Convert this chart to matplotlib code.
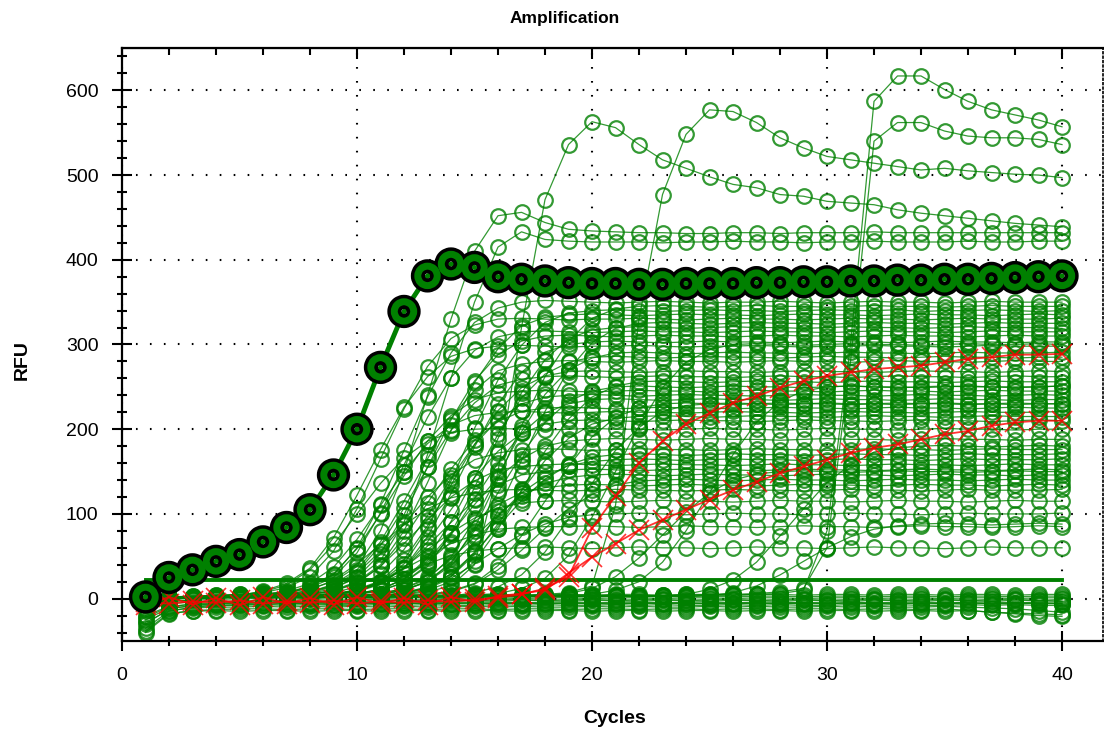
# Amplification plot (qPCR style) - RFU vs cycle for all wells
import matplotlib
matplotlib.use("Agg")
from matplotlib import pyplot as plt
from matplotlib import patheffects as pe
from matplotlib.ticker import MultipleLocator

plt.rcParams['font.family'] = ['Liberation Sans', 'DejaVu Sans']

cycles = list(range(1, 41))
threshold = 22

# highlighted well
hl = [2, 25, 34, 44, 52, 67, 84, 105, 146, 200,
      273, 339, 381, 395, 391, 380, 377, 375, 373, 372,
      372, 371, 371, 372, 372, 372, 373, 373, 374, 374,
      375, 375, 376, 376, 377, 377, 378, 379, 380, 381]

# red wells
r1 = [-4, -6, -3, -5, -2, -6, -3, -5, -2, -6,
      -3, -5, -2, -4, -1, 1, 5, 12, 26, 83,
      121, 160, 186, 206, 219, 231, 239, 249, 257, 263,
      267, 271, 273, 275, 279, 283, 285, 288, 288, 289]
r2 = [-8, 2, -7, 1, -8, 2, -6, 1, -7, 2,
      -6, 1, -7, 2, -4, 3, 6, 10, 30, 49,
      65, 81, 93, 105, 117, 128, 138, 148, 156, 164,
      172, 178, 182, 188, 194, 198, 204, 208, 210, 210]

# green wells - early risers
s01 = [2, 3, 1, 4, 5, 6, 8, 12, 20, 38,
       80, 150, 240, 330, 410, 452, 456, 444, 436, 434,
       433, 432, 432, 431, 431, 432, 432, 431, 432, 432,
       432, 433, 432, 432, 432, 432, 432, 432, 432, 432]
s02 = [1, 0, 2, 3, 2, 4, 6, 9, 14, 24,
       45, 90, 170, 260, 350, 415, 433, 424, 422, 421,
       421, 421, 420, 421, 421, 422, 421, 421, 420, 421,
       421, 422, 421, 421, 421, 422, 421, 421, 422, 422]
s03 = [1, 2, 3, 3, 4, 5, 7, 14, 28, 60,
       112, 175, 238, 290, 326, 343, 350, 352, 351, 350,
       349, 350, 351, 350, 349, 350, 350, 351, 350, 349,
       350, 351, 350, 350, 349, 350, 351, 350, 350, 350]
s04 = [0, 1, 2, 1, 3, 2, 3, 4, 5, 10,
       20, 41, 82, 139, 201, 258, 299, 326, 337, 340,
       341, 340, 339, 340, 341, 340, 340, 339, 340, 341,
       340, 340, 341, 339, 340, 340, 341, 340, 339, 340]
s05 = [2, 1, 3, 4, 5, 7, 13, 26, 56, 106,
       165, 224, 274, 307, 323, 330, 331, 330, 329, 330,
       330, 331, 330, 329, 330, 331, 330, 330, 329, 330,
       331, 330, 330, 329, 330, 331, 330, 330, 330, 331]
s06 = [1, 0, 2, 1, 2, 3, 2, 3, 4, 5,
       10, 19, 38, 77, 131, 189, 243, 282, 307, 317,
       320, 321, 320, 319, 320, 321, 320, 320, 319, 320,
       321, 320, 320, 319, 320, 321, 320, 320, 320, 319]
s07 = [1, 2, 2, 3, 3, 4, 5, 6, 12, 25,
       53, 99, 155, 211, 257, 288, 304, 310, 311, 310,
       309, 310, 311, 310, 310, 309, 310, 311, 310, 310,
       309, 310, 311, 310, 310, 309, 310, 311, 310, 310]
s08 = [1, 2, 2, 3, 4, 9, 18, 36, 72, 122,
       176, 226, 262, 286, 295, 298, 299, 298, 297, 298,
       298, 299, 298, 297, 298, 298, 299, 298, 297, 298,
       298, 299, 298, 298, 297, 298, 299, 298, 298, 298]
s09 = [0, 1, 1, 2, 1, 2, 3, 2, 3, 4,
       6, 12, 23, 49, 93, 145, 197, 241, 270, 284,
       290, 291, 290, 289, 290, 291, 290, 290, 289, 290,
       291, 290, 290, 289, 290, 291, 290, 290, 290, 291]
s10 = [2, 1, 2, 3, 3, 4, 4, 8, 17, 34,
       67, 115, 165, 213, 246, 269, 277, 280, 281, 280,
       279, 280, 281, 280, 280, 279, 280, 281, 280, 280,
       279, 280, 281, 280, 280, 279, 280, 281, 280, 280]
s11 = [1, 1, 2, 2, 3, 2, 3, 4, 5, 11,
       21, 46, 86, 134, 182, 222, 249, 263, 268, 269,
       268, 267, 268, 269, 268, 268, 267, 268, 269, 268,
       268, 267, 268, 269, 268, 268, 267, 268, 269, 268]
s12 = [0, 1, 0, 1, 2, 1, 2, 2, 3, 3,
       4, 5, 10, 20, 44, 82, 128, 174, 212, 238,
       251, 256, 257, 256, 255, 256, 257, 256, 256, 255,
       256, 257, 256, 256, 255, 256, 257, 256, 256, 256]
s13 = [1, 2, 2, 3, 3, 4, 7, 15, 29, 59,
       100, 145, 186, 216, 235, 243, 245, 246, 245, 244,
       245, 246, 245, 245, 244, 245, 246, 245, 245, 244,
       245, 246, 245, 245, 244, 245, 246, 245, 245, 245]
s14 = [0, 1, 1, 2, 2, 3, 2, 3, 4, 5,
       9, 19, 40, 75, 118, 160, 195, 219, 230, 235,
       236, 235, 234, 235, 236, 235, 235, 234, 235, 236,
       235, 235, 234, 235, 236, 235, 235, 234, 235, 235]
s15 = [1, 1, 2, 3, 2, 3, 4, 5, 9, 18,
       38, 72, 113, 153, 187, 209, 221, 225, 226, 225,
       224, 225, 226, 225, 225, 224, 225, 226, 225, 225,
       224, 225, 226, 225, 225, 224, 225, 226, 225, 225]
s16 = [1, 0, 1, 2, 1, 2, 2, 3, 3, 3,
       3, 6, 13, 26, 52, 88, 127, 163, 189, 206,
       213, 215, 216, 215, 214, 215, 216, 215, 215, 214,
       215, 216, 215, 215, 214, 215, 216, 215, 215, 215]
s17 = [1, 2, 2, 3, 4, 8, 16, 34, 64, 100,
       136, 166, 186, 196, 200, 201, 200, 199, 200, 201,
       200, 200, 199, 200, 201, 200, 200, 199, 200, 201,
       200, 200, 199, 200, 201, 200, 200, 199, 200, 200]
s18 = [0, 1, 1, 2, 2, 2, 3, 3, 3, 6,
       11, 23, 45, 77, 111, 143, 165, 180, 186, 188,
       189, 188, 187, 188, 189, 188, 188, 187, 188, 189,
       188, 188, 187, 188, 189, 188, 188, 187, 188, 188]
s19 = [1, 1, 2, 2, 3, 3, 4, 7, 14, 30,
       56, 88, 120, 146, 164, 172, 176, 177, 176, 175,
       176, 177, 176, 176, 175, 176, 177, 176, 176, 175,
       176, 177, 176, 176, 175, 176, 177, 176, 176, 176]
s20 = [0, 1, 0, 1, 2, 1, 2, 2, 2, 2,
       5, 10, 20, 39, 67, 97, 125, 144, 157, 162,
       164, 165, 164, 163, 164, 165, 164, 164, 163, 164,
       165, 164, 164, 163, 164, 165, 164, 164, 164, 165]
s21 = [1, 1, 2, 2, 2, 3, 3, 2, 5, 9,
       18, 36, 62, 90, 116, 134, 146, 150, 152, 153,
       152, 151, 152, 153, 152, 152, 151, 152, 153, 152,
       152, 151, 152, 153, 152, 152, 151, 152, 153, 152]
s22 = [0, 0, 1, 1, 2, 1, 2, 1, 2, 2,
       2, 2, 4, 8, 17, 34, 57, 83, 106, 123,
       134, 139, 140, 141, 140, 139, 140, 141, 140, 140,
       139, 140, 141, 140, 140, 139, 140, 141, 140, 140]
s23 = [1, 1, 2, 2, 2, 3, 5, 10, 22, 41,
       64, 87, 106, 119, 125, 128, 129, 128, 127, 128,
       129, 128, 128, 127, 128, 129, 128, 128, 127, 128,
       129, 128, 128, 127, 128, 129, 128, 128, 128, 129]
s24 = [0, 1, 1, 2, 1, 2, 2, 3, 5, 10,
       20, 35, 50, 65, 75, 82, 84, 85, 85, 86,
       85, 84, 85, 86, 85, 85, 84, 85, 86, 85,
       85, 84, 85, 86, 85, 85, 84, 85, 86, 85]
s25 = [1, 0, 1, 1, 2, 1, 2, 3, 5, 10,
       19, 30, 41, 51, 56, 59, 60, 61, 60, 59,
       60, 61, 60, 60, 59, 60, 61, 60, 60, 59,
       60, 61, 60, 60, 59, 60, 61, 60, 60, 60]
s26 = [1, 2, 1, 2, 3, 2, 3, 3, 4, 3,
       5, 10, 21, 41, 83, 141, 204, 262, 304, 331,
       342, 345, 346, 345, 344, 345, 346, 345, 345, 344,
       345, 346, 345, 345, 344, 345, 346, 345, 345, 345]
s27 = [0, 1, 2, 2, 3, 3, 4, 5, 10, 20,
       40, 80, 137, 198, 255, 295, 322, 332, 335, 336,
       335, 334, 335, 336, 335, 335, 334, 335, 336, 335,
       335, 334, 335, 336, 335, 335, 334, 335, 336, 335]
s28 = [1, 0, 1, 2, 1, 2, 3, 2, 3, 4,
       4, 7, 13, 26, 55, 104, 163, 221, 270, 302,
       319, 325, 326, 325, 324, 325, 326, 325, 325, 324,
       325, 326, 325, 325, 324, 325, 326, 325, 325, 325]
s29 = [2, 1, 2, 3, 4, 5, 6, 13, 25, 54,
       101, 158, 214, 261, 293, 309, 315, 316, 315, 314,
       315, 316, 315, 315, 314, 315, 316, 315, 315, 314,
       315, 316, 315, 315, 314, 315, 316, 315, 315, 315]
s30 = [1, 1, 2, 2, 3, 2, 3, 4, 5, 9,
       18, 36, 73, 124, 179, 230, 267, 291, 300, 303,
       304, 303, 302, 303, 304, 303, 303, 302, 303, 304,
       303, 303, 302, 303, 304, 303, 303, 302, 303, 303]
s31 = [0, 1, 1, 2, 2, 3, 2, 3, 4, 6,
       11, 23, 48, 91, 143, 194, 237, 265, 279, 285,
       286, 285, 284, 285, 286, 285, 285, 284, 285, 286,
       285, 285, 284, 285, 286, 285, 285, 284, 285, 285]
s32 = [1, 2, 2, 3, 3, 4, 4, 8, 16, 31,
       63, 107, 155, 199, 231, 252, 259, 262, 263, 262,
       261, 262, 263, 262, 262, 261, 262, 263, 262, 262,
       261, 262, 263, 262, 262, 261, 262, 263, 262, 262]
s33 = [0, 1, 1, 2, 1, 2, 3, 2, 3, 4,
       5, 10, 20, 43, 80, 125, 170, 208, 233, 245,
       250, 251, 250, 249, 250, 251, 250, 250, 249, 250,
       251, 250, 250, 249, 250, 251, 250, 250, 250, 251]
s34 = [1, 1, 2, 2, 2, 3, 3, 4, 7, 14,
       29, 58, 98, 142, 182, 211, 230, 238, 240, 241,
       240, 239, 240, 241, 240, 240, 239, 240, 241, 240,
       240, 239, 240, 241, 240, 240, 239, 240, 241, 240]
s35 = [0, 0, 1, 1, 2, 1, 2, 1, 2, 2,
       3, 3, 5, 9, 18, 39, 74, 115, 156, 191,
       214, 225, 230, 231, 230, 229, 230, 231, 230, 230,
       229, 230, 231, 230, 230, 229, 230, 231, 230, 230]
s36 = [1, 2, 2, 3, 3, 4, 9, 18, 37, 70,
       110, 150, 183, 205, 216, 220, 221, 220, 219, 220,
       221, 220, 220, 219, 220, 221, 220, 220, 219, 220,
       221, 220, 220, 219, 220, 221, 220, 220, 220, 221]
s37 = [0, 1, 1, 2, 2, 3, 2, 3, 4, 8,
       17, 36, 67, 105, 143, 174, 195, 206, 210, 211,
       210, 209, 210, 211, 210, 210, 209, 210, 211, 210,
       210, 209, 210, 211, 210, 210, 209, 210, 211, 210]
s38 = [1, 0, 1, 1, 2, 1, 2, 2, 3, 3,
       3, 7, 14, 29, 54, 85, 116, 141, 158, 167,
       170, 171, 170, 169, 170, 171, 170, 170, 169, 170,
       171, 170, 170, 169, 170, 171, 170, 170, 170, 171]
s39 = [1, 1, 2, 2, 3, 2, 2, 5, 9, 19,
       38, 65, 93, 120, 139, 152, 156, 158, 159, 158,
       157, 158, 159, 158, 158, 157, 158, 159, 158, 158,
       157, 158, 159, 158, 158, 157, 158, 159, 158, 158]
s40 = [0, 1, 1, 2, 1, 2, 2, 3, 2, 3,
       6, 12, 25, 47, 73, 99, 121, 136, 143, 146,
       147, 146, 145, 146, 147, 146, 146, 145, 146, 147,
       146, 146, 145, 146, 147, 146, 146, 145, 146, 146]
s41 = [1, 1, 2, 2, 2, 3, 3, 2, 3, 5,
       11, 23, 43, 67, 91, 111, 125, 131, 134, 135,
       134, 133, 134, 135, 134, 134, 133, 134, 135, 134,
       134, 133, 134, 135, 134, 134, 133, 134, 135, 134]
s42 = [0, 1, 1, 2, 2, 1, 2, 2, 5, 9,
       20, 37, 58, 78, 95, 107, 113, 115, 116, 115,
       114, 115, 116, 115, 115, 114, 115, 116, 115, 115,
       114, 115, 116, 115, 115, 114, 115, 116, 115, 115]
s43 = [1, 0, 1, 1, 2, 1, 2, 1, 2, 2,
       3, 6, 12, 24, 41, 59, 76, 88, 96, 99,
       100, 101, 100, 99, 100, 101, 100, 100, 99, 100,
       101, 100, 100, 99, 100, 101, 100, 100, 100, 101]

# green wells - late risers
L1 = [1, 2, 1, 2, 3, 2, 3, 2, 3, 3,
      4, 5, 8, 15, 40, 150, 320, 471, 536, 563,
      556, 536, 518, 508, 498, 489, 485, 477, 475, 469,
      467, 465, 459, 455, 452, 449, 446, 443, 441, 439]
L2 = [0, 1, 2, 1, 2, 2, 3, 2, 3, 2,
      3, 3, 2, 3, 3, 4, 4, 5, 7, 15,
      110, 330, 477, 548, 577, 575, 562, 544, 532, 522,
      518, 514, 510, 506, 508, 505, 503, 501, 500, 497]
L3 = [1, 0, 1, 2, 1, 2, 1, 2, 2, 1,
      2, 2, 3, 2, 2, 3, 2, 3, 3, 2,
      3, 3, 4, 3, 4, 4, 5, 6, 10, 80,
      300, 587, 617, 617, 601, 587, 577, 571, 565, 557]
L4 = [2, 1, 2, 1, 2, 3, 2, 2, 3, 2,
      3, 2, 3, 3, 2, 3, 3, 4, 3, 4,
      4, 3, 4, 4, 5, 5, 6, 8, 12, 60,
      280, 540, 562, 562, 552, 546, 544, 544, 542, 536]
L5 = [1, 1, 2, 1, 2, 2, 3, 2, 3, 3,
      3, 4, 3, 4, 4, 6, 12, 24, 51, 96,
      150, 204, 249, 279, 294, 300, 301, 300, 299, 300,
      301, 300, 300, 299, 300, 301, 300, 300, 301, 300]
L6 = [0, 1, 1, 2, 1, 2, 2, 1, 2, 3,
      2, 3, 3, 2, 3, 3, 4, 3, 4, 5,
      10, 20, 43, 80, 125, 170, 208, 233, 245, 250,
      251, 250, 249, 250, 251, 250, 250, 249, 250, 251]
L7 = [1, 0, 1, 1, 2, 1, 2, 2, 1, 2,
      2, 3, 2, 2, 3, 3, 2, 3, 3, 3,
      4, 3, 3, 5, 11, 22, 43, 74, 106, 137,
      158, 173, 178, 180, 181, 180, 179, 180, 181, 180]
L8 = [0, 1, 0, 1, 1, 2, 1, 1, 2, 1,
      2, 2, 1, 2, 2, 2, 3, 2, 2, 3,
      3, 2, 3, 2, 4, 7, 15, 28, 44, 60,
      73, 82, 86, 88, 89, 88, 87, 88, 89, 88]
L9 = [1, 1, 2, 1, 2, 2, 1, 2, 3, 2,
      3, 2, 3, 3, 4, 3, 4, 3, 6, 12,
      26, 48, 75, 102, 125, 140, 147, 150, 151, 150,
      149, 150, 151, 150, 150, 149, 150, 151, 150, 150]
L10 = [0, 1, 1, 2, 2, 1, 2, 3, 2, 3,
       3, 2, 3, 3, 7, 14, 28, 55, 94, 136,
       175, 202, 221, 228, 230, 231, 230, 229, 230, 231,
       230, 230, 229, 230, 231, 230, 230, 229, 230, 230]

# green wells - no amplification
b1 = [-22, -10, -6, -5, -4, -4, -3, -4, -3, -3,
      -3, -2, -3, -3, -2, -3, -2, -2, -3, -2,
      -2, -3, -2, -2, -3, -2, -2, -3, -2, -2,
      -3, -2, -2, -3, -2, -2, -3, -2, -2, -3]
b2 = [-35, -15, -10, -8, -7, -7, -6, -6, -7, -6,
      -6, -5, -6, -6, -5, -6, -5, -6, -5, -6,
      -6, -5, -6, -5, -6, -6, -5, -6, -5, -6,
      -5, -6, -6, -5, -6, -5, -6, -6, -5, -6]
b3 = [-5, -3, -2, -1, 0, 0, 1, 0, 1, 1,
      0, 1, 1, 0, 1, 1, 0, 1, 1, 0,
      1, 1, 0, 1, 1, 0, 1, 1, 0, 1,
      1, 0, 1, 1, 0, 1, 1, 0, 1, 1]
b4 = [-28, -14, -11, -10, -10, -9, -10, -9, -10, -9,
      -10, -9, -10, -10, -9, -10, -9, -10, -10, -9,
      -10, -9, -10, -10, -9, -10, -9, -10, -10, -9,
      -10, -9, -10, -10, -9, -10, -11, -12, -14, -16]
b5 = [-12, -6, -4, -3, -3, -2, -2, -1, -2, -1,
      -1, -2, -1, -1, -2, -1, -1, -2, -1, -1,
      -2, -1, -1, -2, -1, -1, -2, -1, -1, -2,
      -1, -1, -2, -1, -1, -2, -1, -1, -2, -1]
b6 = [-40, -18, -14, -13, -12, -12, -13, -12, -12, -13,
      -12, -12, -13, -12, -12, -13, -12, -12, -13, -12,
      -12, -13, -12, -12, -13, -12, -12, -13, -12, -12,
      -13, -12, -12, -13, -12, -14, -16, -18, -20, -21]
b7 = [-15, -4, -1, 1, 2, 2, 3, 2, 3, 3,
      2, 3, 3, 2, 3, 3, 2, 3, 3, 2,
      3, 3, 2, 3, 3, 2, 3, 3, 2, 3,
      3, 2, 3, 3, 2, 3, 3, 2, 3, 3]
b8 = [-30, -12, -8, -6, -5, -5, -4, -5, -4, -4,
      -5, -4, -4, -5, -4, -4, -5, -4, -4, -5,
      -4, -4, -5, -4, -4, -5, -4, -4, -5, -4,
      -4, -5, -4, -4, -5, -4, -4, -5, -4, -4]
b9 = [-25, -11, -9, -8, -8, -7, -8, -7, -8, -8,
      -7, -8, -7, -8, -8, -7, -8, -7, -8, -8,
      -7, -8, -7, -8, -8, -7, -8, -7, -8, -8,
      -7, -8, -7, -8, -8, -7, -8, -7, -8, -8]
b10 = [-38, -17, -15, -14, -15, -14, -14, -15, -14, -14,
       -15, -14, -14, -15, -14, -14, -15, -14, -14, -15,
       -14, -14, -15, -14, -14, -15, -14, -14, -15, -14,
       -14, -15, -14, -14, -15, -14, -16, -17, -18, -19]
b11 = [-8, -2, 1, 3, 4, 4, 5, 4, 5, 5,
       4, 5, 5, 4, 5, 5, 4, 5, 5, 4,
       5, 5, 4, 5, 5, 4, 5, 5, 4, 5,
       5, 4, 5, 5, 4, 5, 5, 4, 5, 5]
b12 = [-20, -9, -7, -6, -6, -5, -6, -5, -6, -6,
       -5, -6, -5, -6, -6, -5, -6, -5, -6, -6,
       -5, -6, -5, -6, -6, -5, -6, -5, -6, -6,
       -5, -6, -5, -6, -6, -5, -6, -5, -6, -6]

green_wells = [b1, b2, b3, b4, b5, b6, b7, b8, b9, b10, b11, b12,
               s01, s02, s03, s04, s05, s06, s07, s08, s09, s10, s11,
               s12, s13, s14, s15, s16, s17, s18, s19, s20, s21, s22,
               s23, s24, s25, s26, s27, s28, s29, s30, s31, s32, s33,
               s34, s35, s36, s37, s38, s39, s40, s41, s42, s43,
               L1, L2, L3, L4, L5, L6, L7, L8, L9, L10]
red_wells = [r1, r2]

GREEN = '#008000'

fig = plt.figure(figsize=(11.04, 7.38), dpi=100)
ax = fig.add_axes([122 / 1104, 97 / 738, 981 / 1104, 593 / 738])

for w in green_wells:
    ax.plot(cycles, w, '-o', color=GREEN, lw=0.9, ms=10.5, mfc='none',
            mec=GREEN, mew=1.6, alpha=0.8, zorder=2)

ax.plot([1, 40], [threshold, threshold], color=GREEN, lw=2.8, zorder=3)

for w in red_wells:
    ax.plot(cycles, w, '-x', color='red', lw=1.3, ms=14, mew=1.2,
            alpha=0.8, zorder=4)

# highlighted well: green line, then ringed markers with black outline
ax.plot(cycles, hl, '-', color=GREEN, lw=3.5, zorder=5)
ax.plot(cycles, hl, 'o', ms=14, mfc='none', mec=GREEN, mew=5, zorder=6,
        path_effects=[pe.Stroke(linewidth=10, foreground='black'), pe.Normal()])

ax.set_xlim(0, 981 / 23.5)
ax.set_ylim(-50, 650)
ax.xaxis.set_major_locator(MultipleLocator(10))
ax.xaxis.set_minor_locator(MultipleLocator(2))
ax.yaxis.set_major_locator(MultipleLocator(100))
ax.yaxis.set_minor_locator(MultipleLocator(20))
ax.grid(True, which='major', color='black', lw=1.5, linestyle=(0, (0.8, 5.9)))
ax.set_axisbelow(True)

ax.tick_params(which='major', direction='inout', length=14, width=1.5,
               labelsize=14)
ax.tick_params(axis='y', which='major', pad=10)
ax.tick_params(axis='x', which='major', pad=12)
ax.tick_params(which='minor', direction='inout', length=7, width=1.5)
for side in ['left', 'bottom', 'top']:
    ax.spines[side].set_linewidth(1.6)
ax.spines['right'].set_linestyle(':')
ax.spines['right'].set_linewidth(1.2)

top = ax.secondary_xaxis('top')
top.xaxis.set_major_locator(MultipleLocator(10))
top.xaxis.set_minor_locator(MultipleLocator(2))
top.tick_params(which='major', direction='in', length=8, width=1.5, labeltop=False)
top.tick_params(which='minor', direction='in', length=5, width=1.5)

ax.set_xlabel('Cycles', fontsize=14, fontweight='bold')
ax.set_ylabel('RFU', fontsize=14, fontweight='bold')
ax.xaxis.set_label_coords((615 - 122) / 981, (641 - 710) / 593)
ax.yaxis.set_label_coords((31 - 122) / 981, (641 - 360) / 593)
fig.text(565 / 1104, 1 - 18 / 738, 'Amplification', fontsize=12.5,
         fontweight='bold', ha='center', va='center')

fig.savefig('out.png', dpi=100)
